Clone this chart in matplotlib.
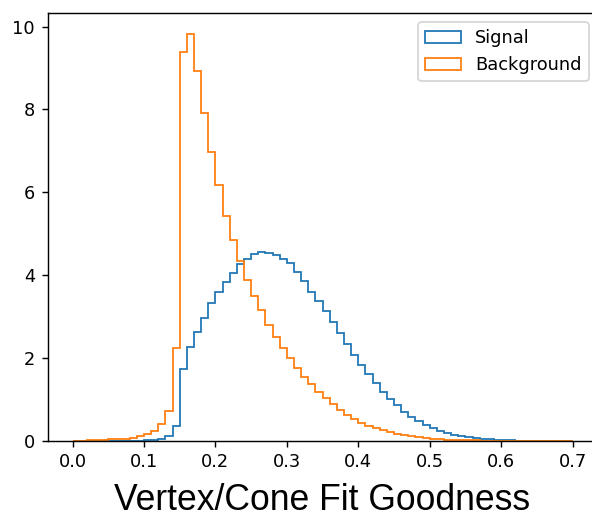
import numpy as np
import matplotlib
matplotlib.use('Agg')
import matplotlib.pyplot as plt

# bin edges 0.00 ... 0.70, width 0.01 (density values)
bin_edges = np.round(np.arange(0, 0.701, 0.01), 2)

signal = [
    0.004, 0.004, 0.004, 0.005, 0.005, 0.006, 0.007, 0.008, 0.009, 0.01,
    0.015, 0.03, 0.05, 0.12, 0.35, 1.74, 2.28, 2.64, 2.97, 3.34,
    3.59, 3.83, 4.05, 4.27, 4.39, 4.51, 4.57, 4.53, 4.48, 4.40,
    4.29, 4.07, 3.85, 3.59, 3.38, 3.14, 2.88, 2.60, 2.34, 2.08,
    1.84, 1.61, 1.39, 1.19, 1.02, 0.86, 0.71, 0.59, 0.48, 0.39,
    0.31, 0.24, 0.19, 0.15, 0.12, 0.09, 0.07, 0.05, 0.04, 0.03,
    0.02, 0.015, 0.01, 0.008, 0.005, 0.004, 0.003, 0.002, 0.0015, 0.001,
]

background = [
    0.01, 0.01, 0.015, 0.02, 0.03, 0.04, 0.05, 0.06, 0.08, 0.12,
    0.16, 0.24, 0.40, 0.73, 2.24, 9.38, 9.83, 8.92, 7.91, 6.97,
    6.17, 5.44, 4.85, 4.34, 3.89, 3.49, 3.15, 2.80, 2.52, 2.24,
    2.00, 1.77, 1.55, 1.37, 1.18, 1.03, 0.89, 0.75, 0.63, 0.53,
    0.44, 0.36, 0.31, 0.26, 0.21, 0.17, 0.14, 0.11, 0.09, 0.07,
    0.055, 0.045, 0.035, 0.028, 0.022, 0.017, 0.013, 0.01, 0.008, 0.006,
    0.005, 0.004, 0.003, 0.002, 0.002, 0.0015, 0.001, 0.001, 0.001, 0.001,
]

labels = ['Signal', 'Background']

dpi = 128
fig = plt.figure(figsize=(592 / dpi, 517 / dpi), dpi=dpi)
# the right spine sits just past the right edge of the picture, as in the original
ax = fig.add_axes([47.5 / 592, 76 / 517, (597.5 - 47.5) / 592, (441 - 13.3) / 517])

centers = bin_edges[:-1] + 0.005
for vals, label in zip([signal, background], labels):
    ax.hist(centers, bins=bin_edges, weights=vals, histtype='step', label=label)

ax.legend(loc='upper right')
ax.set_xlabel('Vertex/Cone Fit Goodness', fontsize=20,
              family='Liberation Sans', labelpad=6.5)

fig.savefig('out.png', dpi=dpi)
